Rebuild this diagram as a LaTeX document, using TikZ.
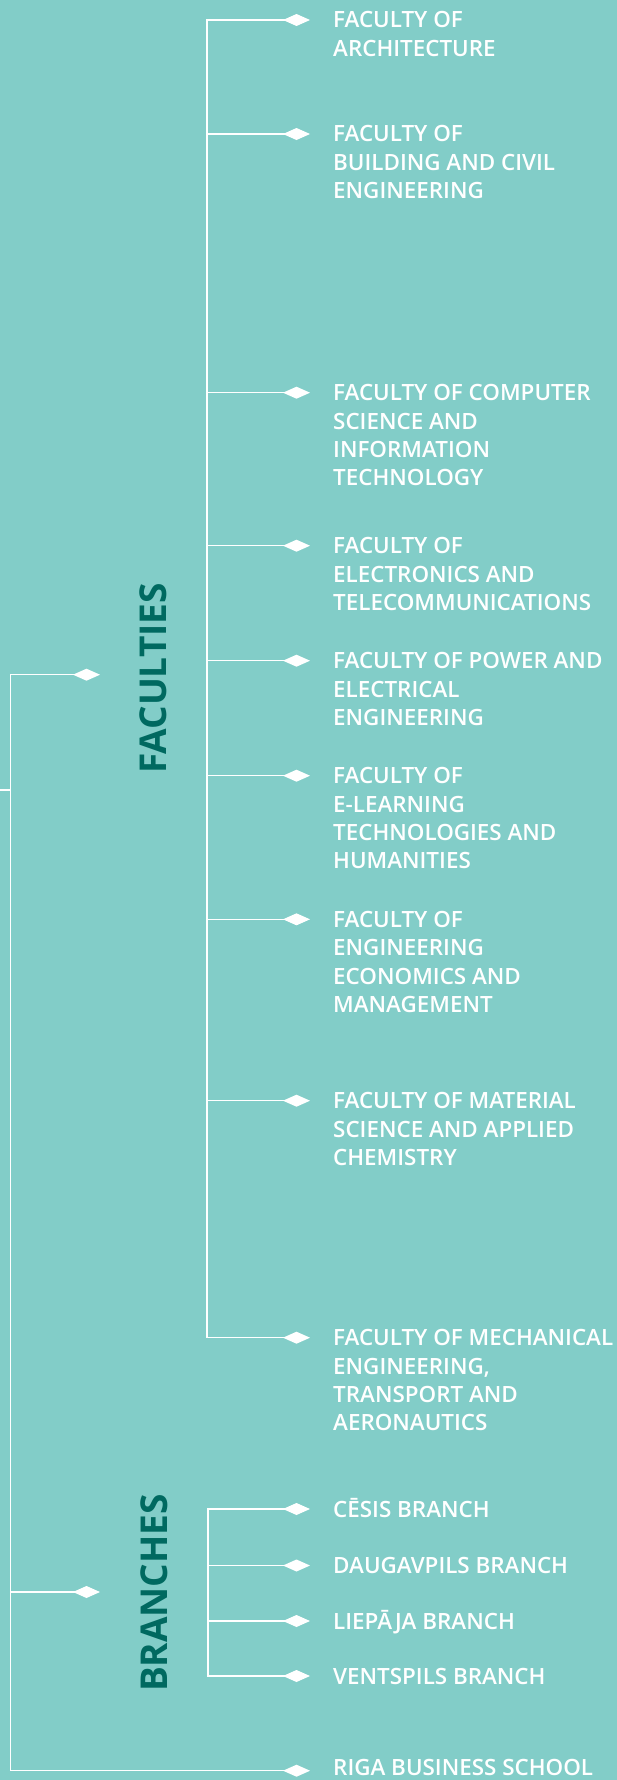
\documentclass[tikz,border=0pt]{standalone}
\usepackage{fontspec}
\setmainfont{Open Sans}
\newfontfamily\itemfont{Open Sans Semibold}
\newfontfamily\headfont{Open Sans}[UprightFont=* Bold]
\usetikzlibrary{arrows.meta}
\definecolor{bgteal}{RGB}{130,205,200}
\definecolor{darkteal}{RGB}{0,105,96}
% multi-line label whose baseline is that of its first line
\newcommand{\lines}[1]{\begin{tabular}[t]{@{}l@{}}#1\end{tabular}}
\tikzset{
  trunk/.style={draw=white, line width=1.3pt, line cap=rect},
  conn/.style={draw=white, line width=1.3pt,
    -{Diamond[length=27pt,width=12pt,fill=white]}},
  item/.style={anchor=base west, inner sep=0pt, text=white,
    font=\itemfont\fontsize{22.4}{28.4}\selectfont},
  head/.style={rotate=90, inner sep=0pt, text=darkteal,
    font=\headfont\fontsize{37}{40}\selectfont}
}
\begin{document}
\begin{tikzpicture}[x=1pt,y=-1pt]
\clip (0,0) rectangle (617,1780);
\fill[bgteal] (0,0) rectangle (617,1780);

% section headings
\node[head] (faculties) at (153.5,678.5) {FACULTIES};
\node[head] (branches) at (154.5,1593) {BRANCHES};

% faculties
\node[item] (f1) at (333,27.8) {\lines{FACULTY OF\\ARCHITECTURE}};
\node[item] (f2) at (333,141.8) {\lines{FACULTY OF\\BUILDING AND CIVIL\\ENGINEERING}};
\node[item] (f3) at (333,400.7) {\lines{FACULTY OF COMPUTER\\SCIENCE AND\\INFORMATION\\TECHNOLOGY}};
\node[item] (f4) at (333,553.7) {\lines{FACULTY OF\\ELECTRONICS AND\\TELECOMMUNICATIONS}};
\node[item] (f5) at (333,668.7) {\lines{FACULTY OF POWER AND\\ELECTRICAL\\ENGINEERING}};
\node[item] (f6) at (333,783.7) {\lines{FACULTY OF\\E-LEARNING\\TECHNOLOGIES AND\\HUMANITIES}};
\node[item] (f7) at (333,927.3) {\lines{FACULTY OF\\ENGINEERING\\ECONOMICS AND\\MANAGEMENT}};
\node[item] (f8) at (333,1108.7) {\lines{FACULTY OF MATERIAL\\SCIENCE AND APPLIED\\CHEMISTRY}};
\node[item] (f9) at (333,1345.7) {\lines{FACULTY OF MECHANICAL\\ENGINEERING,\\TRANSPORT AND\\AERONAUTICS}};

% branches
\node[item] (b1) at (333,1517) {CĒSIS BRANCH};
\node[item] (b2) at (333,1573.5) {DAUGAVPILS BRANCH};
\node[item] (b3) at (333,1629) {LIEPĀJA BRANCH};
\node[item] (b4) at (333,1684) {VENTSPILS BRANCH};

% business school
\node[item] (r) at (333,1775.5) {RIGA BUSINESS SCHOOL};

% diamond tips of the connectors
\foreach \n/\y in {f1/20,f2/134,f3/392.7,f4/545.7,f5/660.7,f6/775.7,f7/919.3,f8/1100.7,f9/1337.7,
                   b1/1509,b2/1565.5,b3/1621,b4/1676,r/1770.7}
  \coordinate (\n tip) at (310,\y);
\coordinate (factip) at (100,674.7);
\coordinate (brtip) at (100,1592);

% trunk lines
\coordinate (ftop) at (207,20);
\coordinate (fbot) at (207,1337.7);
\coordinate (btop) at (208,1509);
\coordinate (bbot) at (208,1676);
\coordinate (rtop) at (10.7,674.7);
\coordinate (rbot) at (10.7,1770.7);
\coordinate (stub) at (0,790);

\draw[trunk] (ftop) -- (fbot);
\draw[trunk] (btop) -- (bbot);
\draw[trunk] (rtop) -- (rbot);
\draw[trunk, line cap=butt] (stub) -- (stub -| rtop);

% connectors
\foreach \n in {f1,f2,f3,f4,f5,f6,f7,f8,f9}
  \draw[conn] (ftop |- \n tip) -- (\n tip);
\foreach \n in {b1,b2,b3,b4}
  \draw[conn] (btop |- \n tip) -- (\n tip);
\draw[conn] (rtop |- factip) -- (factip);
\draw[conn] (rtop |- brtip) -- (brtip);
\draw[conn] (rbot) -- (rtip);
\end{tikzpicture}
\end{document}
